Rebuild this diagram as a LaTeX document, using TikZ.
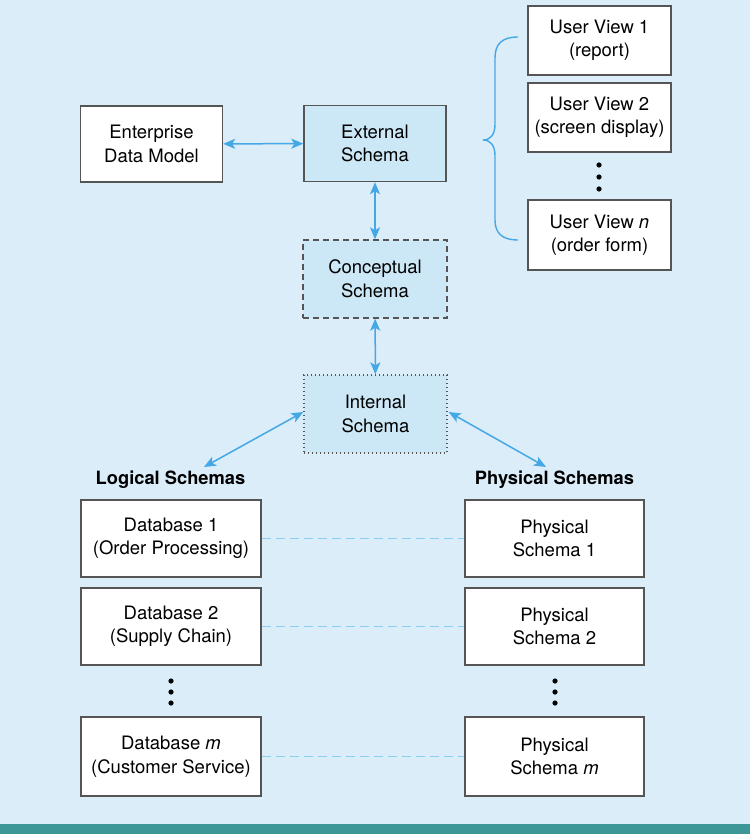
\documentclass[tikz,border=0pt]{standalone}
\usepackage{fontspec}
\setmainfont{TeX Gyre Heros}
\usepackage{tikz}
\usetikzlibrary{arrows.meta,positioning,calc}
\usepackage{xcolor}
\definecolor{bgblue}{HTML}{DAEDF8}
\definecolor{fillblue}{HTML}{CCE7F6}
\definecolor{arrowblue}{HTML}{45A8E6}
\definecolor{dashblue}{HTML}{8ACFF2}
\definecolor{boxgray}{HTML}{555555}
\definecolor{stripteal}{HTML}{3E9797}

\begin{document}
\begin{tikzpicture}[
  x=1pt, y=-1pt,
  box/.style={draw=boxgray, line width=1.4pt, fill=white, minimum width=142pt, minimum height=76pt, align=center, inner sep=2pt, font=\fontsize{18.5}{23.5}\selectfont},
  schemabox/.style={box, fill=fillblue},
  viewbox/.style={box, minimum width=143pt, minimum height=69pt},
  dbbox/.style={box, minimum width=180pt, minimum height=77pt},
  heading/.style={font=\fontsize{18.3}{20}\selectfont\bfseries, inner sep=0pt},
  arrow/.style={{Stealth[length=12pt,width=10pt,inset=3pt]}-{Stealth[length=12pt,width=10pt,inset=3pt]}, draw=arrowblue, line width=1.5pt},
  link/.style={draw=dashblue, line width=1.5pt, dash pattern=on 9pt off 5pt},
  bigdot/.style={fill=black},
]
  % Background
  \fill[bgblue] (0,0) rectangle (750,834);
  \fill[stripteal] (0,824) rectangle (750,834);

  % Schemas
  \node[box] (edm) at (151.5,144) {Enterprise\\Data Model};
  \node[schemabox] (ext) at (375,143.5) {External\\Schema};
  \node[schemabox, dash pattern=on 6pt off 4pt, minimum width=144pt, minimum height=78pt] (con) at (375,279) {Conceptual\\Schema};
  \node[schemabox, dash pattern=on 1.4pt off 2.6pt, minimum width=143pt, minimum height=78pt] (int) at (375.5,414) {Internal\\Schema};

  % User views
  \node[viewbox] (uv1) at (599.5,40.5) {User View 1\\(report)};
  \node[viewbox] (uv2) at (599.5,117.5) {User View 2\\(screen display)};
  \node[viewbox, minimum height=70pt] (uvn) at (599.5,235) {User View \textit{n}\\(order form)};
  \foreach \y in {165,177,189} \fill[bigdot] (599,\y) circle (2.6pt);
  \draw[arrowblue, line width=1.4pt] (518,37) .. controls (502,37) and (495,44) .. (495,58) -- (495,124)
    .. controls (495,134) and (491,140) .. (483,140)
    .. controls (491,140) and (495,146) .. (495,156) -- (495,220)
    .. controls (495,233) and (502,240) .. (518,240);

  % Logical and physical schemas
  \node[heading] (lhead) at (170.5,480) {Logical Schemas};
  \node[heading] (phead) at (554.5,480) {Physical Schemas};
  \coordinate (ltip) at (204,467);
  \coordinate (ptip) at (546,467);

  \node[dbbox] (db1) at (171,538.5) {Database 1\\(Order Processing)};
  \node[dbbox] (db2) at (171,626.5) {Database 2\\(Supply Chain)};
  \node[dbbox, minimum height=79pt] (dbm) at (171,756.5) {Database \textit{m}\\(Customer Service)};
  \node[dbbox, minimum width=179pt] (ps1) at (554.5,538.5) {Physical\\Schema 1};
  \node[dbbox, minimum width=179pt] (ps2) at (554.5,626.5) {Physical\\Schema 2};
  \node[dbbox, minimum width=179pt, minimum height=79pt] (psm) at (554.5,756.5) {Physical\\Schema \textit{m}};
  \foreach \y in {681,692,703} {
    \fill[bigdot] (171,\y) circle (2.6pt);
    \fill[bigdot] (555,\y) circle (2.6pt);
  }

  % Arrows
  \draw[arrow] (edm) -- (ext);
  \draw[arrow] (ext) -- (con);
  \draw[arrow] (con) -- (int);
  \draw[arrow] ($(int.west)+(0,-2)$) -- (ltip);
  \draw[arrow] ($(int.east)+(1,-2)$) -- (ptip);

  % Mappings
  \draw[link] (db1) -- (ps1);
  \draw[link] (db2) -- (ps2);
  \draw[link] (dbm) -- (psm);
\end{tikzpicture}
\end{document}
